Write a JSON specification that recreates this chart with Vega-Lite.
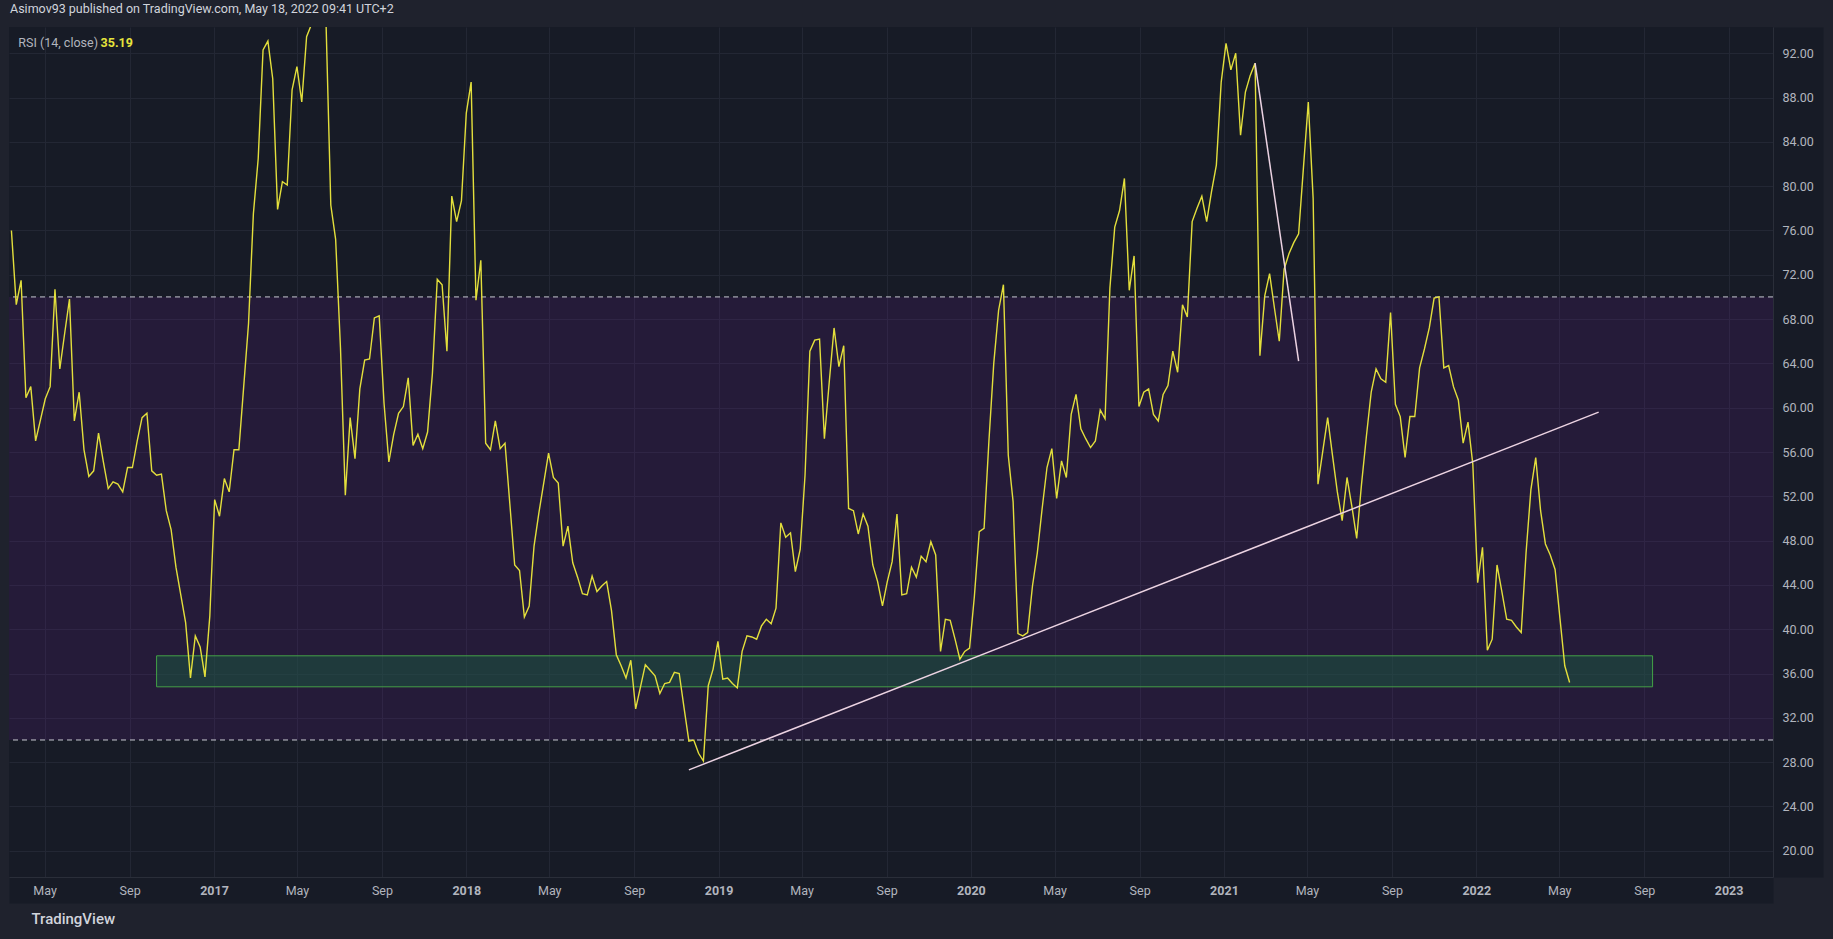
{
"$schema":"https://vega.github.io/schema/vega-lite/v6.json",
"width":1764,"height":850,
"autosize":{"type":"none"},
"padding":{"left":9,"top":27,"right":60,"bottom":62},
"background":"#1f222d",
"title":{"text":"Asimov93 published on TradingView.com, May 18, 2022 09:41 UTC+2","anchor":"start","frame":"group","offset":-18,"fontSize":12.5,"fontWeight":"normal","color":"#d1d4dc","font":"Roboto","dx":1},
"config":{"view":{"fill":"#171b26","stroke":null},"font":"Roboto"},
"resolve":{"axis":{"x":"independent","y":"independent"}},
"datasets":{
"rsi":[
{"date":"2016-03-14","rsi":76.0},{"date":"2016-03-21","rsi":69.3},{"date":"2016-03-28","rsi":71.5},{"date":"2016-04-04","rsi":60.9},{"date":"2016-04-11","rsi":61.9},{"date":"2016-04-18","rsi":57.0},{"date":"2016-04-25","rsi":58.9},{"date":"2016-05-02","rsi":60.8},{"date":"2016-05-09","rsi":61.9},{"date":"2016-05-16","rsi":70.7},{"date":"2016-05-23","rsi":63.5},{"date":"2016-05-30","rsi":66.7},{"date":"2016-06-06","rsi":69.8},{"date":"2016-06-13","rsi":58.8},{"date":"2016-06-20","rsi":61.4},{"date":"2016-06-27","rsi":56.2},{"date":"2016-07-04","rsi":53.8},{"date":"2016-07-11","rsi":54.3},{"date":"2016-07-18","rsi":57.7},{"date":"2016-07-25","rsi":55.1},{"date":"2016-08-01","rsi":52.7},{"date":"2016-08-08","rsi":53.3},{"date":"2016-08-15","rsi":53.1},{"date":"2016-08-22","rsi":52.4},{"date":"2016-08-29","rsi":54.6},{"date":"2016-09-05","rsi":54.6},{"date":"2016-09-12","rsi":57.0},{"date":"2016-09-19","rsi":59.1},{"date":"2016-09-26","rsi":59.5},{"date":"2016-10-03","rsi":54.3},{"date":"2016-10-10","rsi":53.9},{"date":"2016-10-17","rsi":54.0},{"date":"2016-10-24","rsi":50.7},{"date":"2016-10-31","rsi":49.0},{"date":"2016-11-07","rsi":45.6},{"date":"2016-11-14","rsi":43.1},{"date":"2016-11-21","rsi":40.6},{"date":"2016-11-28","rsi":35.6},{"date":"2016-12-05","rsi":39.4},{"date":"2016-12-12","rsi":38.4},{"date":"2016-12-19","rsi":35.7},{"date":"2016-12-26","rsi":41.2},
{"date":"2017-01-02","rsi":51.7},{"date":"2017-01-09","rsi":50.2},{"date":"2017-01-16","rsi":53.6},{"date":"2017-01-23","rsi":52.4},{"date":"2017-01-30","rsi":56.2},{"date":"2017-02-06","rsi":56.2},{"date":"2017-02-13","rsi":61.9},{"date":"2017-02-20","rsi":67.6},{"date":"2017-02-27","rsi":77.5},{"date":"2017-03-06","rsi":82.5},{"date":"2017-03-13","rsi":92.3},{"date":"2017-03-20","rsi":93.1},{"date":"2017-03-27","rsi":89.7},{"date":"2017-04-03","rsi":77.9},{"date":"2017-04-10","rsi":80.4},{"date":"2017-04-17","rsi":80.1},{"date":"2017-04-24","rsi":88.7},{"date":"2017-05-01","rsi":90.8},{"date":"2017-05-08","rsi":87.6},{"date":"2017-05-15","rsi":93.5},{"date":"2017-05-22","rsi":94.6},{"date":"2017-05-29","rsi":97.0},{"date":"2017-06-05","rsi":96.5},{"date":"2017-06-12","rsi":95.0},{"date":"2017-06-19","rsi":78.3},{"date":"2017-06-26","rsi":75.2},{"date":"2017-07-03","rsi":65.4},{"date":"2017-07-10","rsi":52.1},{"date":"2017-07-17","rsi":59.1},{"date":"2017-07-24","rsi":55.4},{"date":"2017-07-31","rsi":61.7},{"date":"2017-08-07","rsi":64.3},{"date":"2017-08-14","rsi":64.4},{"date":"2017-08-21","rsi":68.1},{"date":"2017-08-28","rsi":68.3},{"date":"2017-09-04","rsi":60.4},{"date":"2017-09-11","rsi":55.1},{"date":"2017-09-18","rsi":57.6},{"date":"2017-09-25","rsi":59.5},{"date":"2017-10-02","rsi":60.1},{"date":"2017-10-09","rsi":62.7},{"date":"2017-10-16","rsi":56.6},{"date":"2017-10-23","rsi":57.6},{"date":"2017-10-30","rsi":56.3},{"date":"2017-11-06","rsi":57.8},{"date":"2017-11-13","rsi":63.1},{"date":"2017-11-20","rsi":71.6},{"date":"2017-11-27","rsi":71.1},{"date":"2017-12-04","rsi":65.1},{"date":"2017-12-11","rsi":79.1},{"date":"2017-12-18","rsi":76.8},{"date":"2017-12-25","rsi":78.7},
{"date":"2018-01-01","rsi":86.6},{"date":"2018-01-08","rsi":89.4},{"date":"2018-01-15","rsi":69.7},{"date":"2018-01-22","rsi":73.3},{"date":"2018-01-29","rsi":56.8},{"date":"2018-02-05","rsi":56.2},{"date":"2018-02-12","rsi":58.8},{"date":"2018-02-19","rsi":56.3},{"date":"2018-02-26","rsi":56.8},{"date":"2018-03-05","rsi":51.3},{"date":"2018-03-12","rsi":45.8},{"date":"2018-03-19","rsi":45.3},{"date":"2018-03-26","rsi":41.1},{"date":"2018-04-02","rsi":42.1},{"date":"2018-04-09","rsi":47.5},{"date":"2018-04-16","rsi":50.5},{"date":"2018-04-23","rsi":53.2},{"date":"2018-04-30","rsi":55.9},{"date":"2018-05-07","rsi":53.7},{"date":"2018-05-14","rsi":53.2},{"date":"2018-05-21","rsi":47.5},{"date":"2018-05-28","rsi":49.3},{"date":"2018-06-04","rsi":46.0},{"date":"2018-06-11","rsi":44.7},{"date":"2018-06-18","rsi":43.2},{"date":"2018-06-25","rsi":43.1},{"date":"2018-07-02","rsi":44.8},{"date":"2018-07-09","rsi":43.4},{"date":"2018-07-16","rsi":43.9},{"date":"2018-07-23","rsi":44.3},{"date":"2018-07-30","rsi":41.7},{"date":"2018-08-06","rsi":37.7},{"date":"2018-08-13","rsi":36.7},{"date":"2018-08-20","rsi":35.6},{"date":"2018-08-27","rsi":37.2},{"date":"2018-09-03","rsi":32.8},{"date":"2018-09-10","rsi":34.8},{"date":"2018-09-17","rsi":36.8},{"date":"2018-09-24","rsi":36.3},{"date":"2018-10-01","rsi":35.8},{"date":"2018-10-08","rsi":34.2},{"date":"2018-10-15","rsi":35.1},{"date":"2018-10-22","rsi":35.2},{"date":"2018-10-29","rsi":36.1},{"date":"2018-11-05","rsi":36.0},{"date":"2018-11-12","rsi":32.9},{"date":"2018-11-19","rsi":29.9},{"date":"2018-11-26","rsi":30.0},{"date":"2018-12-03","rsi":28.8},{"date":"2018-12-10","rsi":28.1},{"date":"2018-12-17","rsi":34.9},{"date":"2018-12-24","rsi":36.4},{"date":"2018-12-31","rsi":38.9},
{"date":"2019-01-07","rsi":35.5},{"date":"2019-01-14","rsi":35.6},{"date":"2019-01-21","rsi":35.1},{"date":"2019-01-28","rsi":34.7},{"date":"2019-02-04","rsi":38.0},{"date":"2019-02-11","rsi":39.4},{"date":"2019-02-18","rsi":39.3},{"date":"2019-02-25","rsi":39.1},{"date":"2019-03-04","rsi":40.3},{"date":"2019-03-11","rsi":40.9},{"date":"2019-03-18","rsi":40.5},{"date":"2019-03-25","rsi":41.9},{"date":"2019-04-01","rsi":49.6},{"date":"2019-04-08","rsi":48.3},{"date":"2019-04-15","rsi":48.7},{"date":"2019-04-22","rsi":45.2},{"date":"2019-04-29","rsi":47.2},{"date":"2019-05-06","rsi":53.9},{"date":"2019-05-13","rsi":65.1},{"date":"2019-05-20","rsi":66.1},{"date":"2019-05-27","rsi":66.2},{"date":"2019-06-03","rsi":57.2},{"date":"2019-06-10","rsi":62.3},{"date":"2019-06-17","rsi":67.2},{"date":"2019-06-24","rsi":63.7},{"date":"2019-07-01","rsi":65.6},{"date":"2019-07-08","rsi":50.9},{"date":"2019-07-15","rsi":50.7},{"date":"2019-07-22","rsi":48.6},{"date":"2019-07-29","rsi":50.4},{"date":"2019-08-05","rsi":49.3},{"date":"2019-08-12","rsi":45.8},{"date":"2019-08-19","rsi":44.3},{"date":"2019-08-26","rsi":42.1},{"date":"2019-09-02","rsi":44.3},{"date":"2019-09-09","rsi":46.1},{"date":"2019-09-16","rsi":50.4},{"date":"2019-09-23","rsi":43.1},{"date":"2019-09-30","rsi":43.2},{"date":"2019-10-07","rsi":45.6},{"date":"2019-10-14","rsi":44.7},{"date":"2019-10-21","rsi":46.6},{"date":"2019-10-28","rsi":46.1},{"date":"2019-11-04","rsi":47.9},{"date":"2019-11-11","rsi":46.7},{"date":"2019-11-18","rsi":38.0},{"date":"2019-11-25","rsi":40.9},{"date":"2019-12-02","rsi":40.8},{"date":"2019-12-09","rsi":39.1},{"date":"2019-12-16","rsi":37.3},{"date":"2019-12-23","rsi":38.0},{"date":"2019-12-30","rsi":38.3},
{"date":"2020-01-06","rsi":43.0},{"date":"2020-01-13","rsi":48.8},{"date":"2020-01-20","rsi":49.1},{"date":"2020-01-27","rsi":57.0},{"date":"2020-02-03","rsi":64.0},{"date":"2020-02-10","rsi":68.8},{"date":"2020-02-17","rsi":71.1},{"date":"2020-02-24","rsi":55.7},{"date":"2020-03-02","rsi":51.5},{"date":"2020-03-09","rsi":39.6},{"date":"2020-03-16","rsi":39.4},{"date":"2020-03-23","rsi":39.7},{"date":"2020-03-30","rsi":43.9},{"date":"2020-04-06","rsi":46.9},{"date":"2020-04-13","rsi":50.9},{"date":"2020-04-20","rsi":54.6},{"date":"2020-04-27","rsi":56.3},{"date":"2020-05-04","rsi":51.8},{"date":"2020-05-11","rsi":55.2},{"date":"2020-05-18","rsi":53.7},{"date":"2020-05-25","rsi":59.4},{"date":"2020-06-01","rsi":61.2},{"date":"2020-06-08","rsi":58.1},{"date":"2020-06-15","rsi":57.2},{"date":"2020-06-22","rsi":56.4},{"date":"2020-06-29","rsi":57.0},{"date":"2020-07-06","rsi":59.8},{"date":"2020-07-13","rsi":59.0},{"date":"2020-07-20","rsi":70.8},{"date":"2020-07-27","rsi":76.3},{"date":"2020-08-03","rsi":77.8},{"date":"2020-08-10","rsi":80.7},{"date":"2020-08-17","rsi":70.6},{"date":"2020-08-24","rsi":73.7},{"date":"2020-08-31","rsi":60.1},{"date":"2020-09-07","rsi":61.4},{"date":"2020-09-14","rsi":61.7},{"date":"2020-09-21","rsi":59.4},{"date":"2020-09-28","rsi":58.8},{"date":"2020-10-05","rsi":61.2},{"date":"2020-10-12","rsi":62.0},{"date":"2020-10-19","rsi":65.1},{"date":"2020-10-26","rsi":63.2},{"date":"2020-11-02","rsi":69.3},{"date":"2020-11-09","rsi":68.2},{"date":"2020-11-16","rsi":76.8},{"date":"2020-11-23","rsi":78.0},{"date":"2020-11-30","rsi":79.1},{"date":"2020-12-07","rsi":76.8},{"date":"2020-12-14","rsi":79.5},{"date":"2020-12-21","rsi":81.9},{"date":"2020-12-28","rsi":89.4},
{"date":"2021-01-04","rsi":92.9},{"date":"2021-01-11","rsi":90.5},{"date":"2021-01-18","rsi":92.0},{"date":"2021-01-25","rsi":84.6},{"date":"2021-02-01","rsi":88.5},{"date":"2021-02-08","rsi":90.0},{"date":"2021-02-15","rsi":91.1},{"date":"2021-02-22","rsi":64.7},{"date":"2021-03-01","rsi":70.1},{"date":"2021-03-08","rsi":72.1},{"date":"2021-03-15","rsi":69.0},{"date":"2021-03-22","rsi":66.0},{"date":"2021-03-29","rsi":72.5},{"date":"2021-04-05","rsi":73.9},{"date":"2021-04-12","rsi":74.9},{"date":"2021-04-19","rsi":75.7},{"date":"2021-04-26","rsi":81.7},{"date":"2021-05-03","rsi":87.6},{"date":"2021-05-10","rsi":78.9},{"date":"2021-05-17","rsi":53.1},{"date":"2021-05-24","rsi":56.1},{"date":"2021-05-31","rsi":59.1},{"date":"2021-06-07","rsi":55.7},{"date":"2021-06-14","rsi":52.4},{"date":"2021-06-21","rsi":49.8},{"date":"2021-06-28","rsi":53.7},{"date":"2021-07-05","rsi":51.1},{"date":"2021-07-12","rsi":48.2},{"date":"2021-07-19","rsi":53.1},{"date":"2021-07-26","rsi":57.4},{"date":"2021-08-02","rsi":61.4},{"date":"2021-08-09","rsi":63.5},{"date":"2021-08-16","rsi":62.6},{"date":"2021-08-23","rsi":62.3},{"date":"2021-08-30","rsi":68.6},{"date":"2021-09-06","rsi":60.3},{"date":"2021-09-13","rsi":59.2},{"date":"2021-09-20","rsi":55.5},{"date":"2021-09-27","rsi":59.2},{"date":"2021-10-04","rsi":59.2},{"date":"2021-10-11","rsi":63.6},{"date":"2021-10-18","rsi":65.3},{"date":"2021-10-25","rsi":67.2},{"date":"2021-11-01","rsi":69.9},{"date":"2021-11-08","rsi":70.0},{"date":"2021-11-15","rsi":63.6},{"date":"2021-11-22","rsi":63.8},{"date":"2021-11-29","rsi":61.9},{"date":"2021-12-06","rsi":60.7},{"date":"2021-12-13","rsi":56.8},{"date":"2021-12-20","rsi":58.7},{"date":"2021-12-27","rsi":54.9},
{"date":"2022-01-03","rsi":44.2},{"date":"2022-01-10","rsi":47.4},{"date":"2022-01-17","rsi":38.1},{"date":"2022-01-24","rsi":39.1},{"date":"2022-01-31","rsi":45.8},{"date":"2022-02-07","rsi":43.4},{"date":"2022-02-14","rsi":40.9},{"date":"2022-02-21","rsi":40.8},{"date":"2022-02-28","rsi":40.2},{"date":"2022-03-07","rsi":39.7},{"date":"2022-03-14","rsi":46.9},{"date":"2022-03-21","rsi":52.6},{"date":"2022-03-28","rsi":55.5},{"date":"2022-04-04","rsi":50.7},{"date":"2022-04-11","rsi":47.7},{"date":"2022-04-18","rsi":46.7},{"date":"2022-04-25","rsi":45.4},{"date":"2022-05-02","rsi":41.0},{"date":"2022-05-09","rsi":36.7},{"date":"2022-05-16","rsi":35.19}
],
"band":[{"lo":30,"hi":70}],
"levels":[{"level":70},{"level":30}],
"zone":[{"start":"2016-10-10","end":"2022-09-13","lo":34.8,"hi":37.6}],
"trends":[{"id":"support","date":"2018-11-19","value":27.3},{"id":"support","date":"2022-06-27","value":59.6},{"id":"drop","date":"2021-02-15","value":91.1},{"id":"drop","date":"2021-04-19","value":64.2}],
"legend":[{"label":"RSI (14, close)"}]
},
"layer":[
{"data":{"name":"rsi"},"mark":{"type":"line","opacity":0},
 "encoding":{
  "x":{"field":"date","type":"temporal","scale":{"type":"utc","domain":[{"year":2016,"month":3,"date":10,"hours":12,"utc":true},{"year":2023,"month":3,"date":6,"hours":5,"utc":true}]},
   "axis":{"orient":"bottom","zindex":0,"values":[{"year":2016,"month":5,"date":1,"utc":true},{"year":2016,"month":9,"date":1,"utc":true},{"year":2017,"month":1,"date":1,"utc":true},{"year":2017,"month":5,"date":1,"utc":true},{"year":2017,"month":9,"date":1,"utc":true},{"year":2018,"month":1,"date":1,"utc":true},{"year":2018,"month":5,"date":1,"utc":true},{"year":2018,"month":9,"date":1,"utc":true},{"year":2019,"month":1,"date":1,"utc":true},{"year":2019,"month":5,"date":1,"utc":true},{"year":2019,"month":9,"date":1,"utc":true},{"year":2020,"month":1,"date":1,"utc":true},{"year":2020,"month":5,"date":1,"utc":true},{"year":2020,"month":9,"date":1,"utc":true},{"year":2021,"month":1,"date":1,"utc":true},{"year":2021,"month":5,"date":1,"utc":true},{"year":2021,"month":9,"date":1,"utc":true},{"year":2022,"month":1,"date":1,"utc":true},{"year":2022,"month":5,"date":1,"utc":true},{"year":2022,"month":9,"date":1,"utc":true},{"year":2023,"month":1,"date":1,"utc":true}],
    "grid":true,"gridColor":"#232734","gridWidth":1,"domain":true,"domainColor":"#171b26","domainWidth":26,"offset":13,"ticks":false,"labels":false,"title":null}},
  "y":{"field":"rsi","type":"quantitative","scale":{"domain":[17.63,94.37],"nice":false,"zero":false},
   "axis":{"orient":"right","zindex":0,"values":[20,24,28,32,36,40,44,48,52,56,60,64,68,72,76,80,84,88,92],"grid":true,"gridColor":"#232734","gridWidth":1,"domain":true,"domainColor":"#171b26","domainWidth":50,"offset":25,"ticks":false,"labels":false,"title":null}}}},
{"data":{"name":"rsi"},"mark":{"type":"line","opacity":0},
 "encoding":{
  "x":{"field":"date","type":"temporal",
   "axis":{"orient":"bottom","zindex":1,"values":[{"year":2016,"month":5,"date":1,"utc":true},{"year":2016,"month":9,"date":1,"utc":true},{"year":2017,"month":1,"date":1,"utc":true},{"year":2017,"month":5,"date":1,"utc":true},{"year":2017,"month":9,"date":1,"utc":true},{"year":2018,"month":1,"date":1,"utc":true},{"year":2018,"month":5,"date":1,"utc":true},{"year":2018,"month":9,"date":1,"utc":true},{"year":2019,"month":1,"date":1,"utc":true},{"year":2019,"month":5,"date":1,"utc":true},{"year":2019,"month":9,"date":1,"utc":true},{"year":2020,"month":1,"date":1,"utc":true},{"year":2020,"month":5,"date":1,"utc":true},{"year":2020,"month":9,"date":1,"utc":true},{"year":2021,"month":1,"date":1,"utc":true},{"year":2021,"month":5,"date":1,"utc":true},{"year":2021,"month":9,"date":1,"utc":true},{"year":2022,"month":1,"date":1,"utc":true},{"year":2022,"month":5,"date":1,"utc":true},{"year":2022,"month":9,"date":1,"utc":true},{"year":2023,"month":1,"date":1,"utc":true}],
    "labelExpr":"utcmonth(datum.value) == 0 ? utcFormat(datum.value, '%Y') : utcFormat(datum.value, '%b')",
    "labelFontWeight":{"condition":{"test":"utcmonth(datum.value) == 0","value":"bold"},"value":"normal"},
    "grid":false,"domain":true,"domainColor":"#2a2e39","ticks":false,"tickSize":0,
    "labelPadding":7,"labelColor":"#b2b5be","labelFontSize":12.5,"labelFont":"Roboto","labelFlush":false,"labelOverlap":false,
    "title":"TradingView","titleAnchor":"start","titleAlign":"left","titleX":22,"titlePadding":15,"titleColor":"#d1d4dc","titleFontSize":15,"titleFontWeight":500,"titleFont":"Roboto"}},
  "y":{"field":"rsi","type":"quantitative",
   "axis":{"orient":"right","zindex":1,"values":[20,24,28,32,36,40,44,48,52,56,60,64,68,72,76,80,84,88,92],"format":".2f","grid":false,"domain":true,"domainColor":"#2a2e39","ticks":false,"tickSize":0,"labelPadding":9,"labelColor":"#b2b5be","labelFontSize":12.5,"labelFont":"Roboto","labelFlush":false,"labelOverlap":false,"title":null}}}},
{"data":{"name":"band"},"mark":{"type":"rect","fill":"#6a1b9a","fillOpacity":0.17},
 "encoding":{"y":{"field":"lo","type":"quantitative","axis":null},"y2":{"field":"hi"}}},
{"data":{"name":"zone"},"mark":{"type":"rect","fill":"#1a5a40","fillOpacity":0.5,"stroke":"#43a047","strokeWidth":1},
 "encoding":{"x":{"field":"start","type":"temporal","axis":null},"x2":{"field":"end"},
  "y":{"field":"lo","type":"quantitative","axis":null},"y2":{"field":"hi"}}},
{"data":{"name":"levels"},"mark":{"type":"rule","color":"#c8cad2","strokeWidth":1,"strokeDash":[5,4]},
 "encoding":{"y":{"field":"level","type":"quantitative","axis":null}}},
{"data":{"name":"rsi"},"mark":{"type":"line","color":"#e3df3c","strokeWidth":1.4,"clip":true},
 "encoding":{"x":{"field":"date","type":"temporal","axis":null},"y":{"field":"rsi","type":"quantitative","axis":null}}},
{"data":{"name":"trends"},"mark":{"type":"line","color":"#ecd3e2","strokeWidth":1.5},
 "encoding":{"x":{"field":"date","type":"temporal","axis":null},
  "y":{"field":"value","type":"quantitative","axis":null},"detail":{"field":"id"}}},
{"data":{"name":"legend"},"mark":{"type":"text","align":"left","baseline":"middle","color":"#b2b5be","fontSize":12.5,"font":"Roboto"},
 "encoding":{"x":{"datum":{"year":2016,"month":3,"date":24,"utc":true},"type":"temporal","axis":null},"y":{"datum":92.95,"type":"quantitative","axis":null},"text":{"field":"label"}}},
{"data":{"name":"rsi"},"transform":[{"window":[{"op":"row_number","as":"rn"}],"sort":[{"field":"date","order":"descending"}]},{"filter":"datum.rn == 1"}],
 "mark":{"type":"text","align":"left","baseline":"middle","color":"#e6e43c","fontSize":12.5,"fontWeight":"bold","font":"Roboto"},
 "encoding":{"x":{"datum":{"year":2016,"month":7,"date":21,"utc":true},"type":"temporal","axis":null},"y":{"datum":92.95,"type":"quantitative","axis":null},"text":{"field":"rsi","type":"quantitative","format":".2f"}}}
]
}
